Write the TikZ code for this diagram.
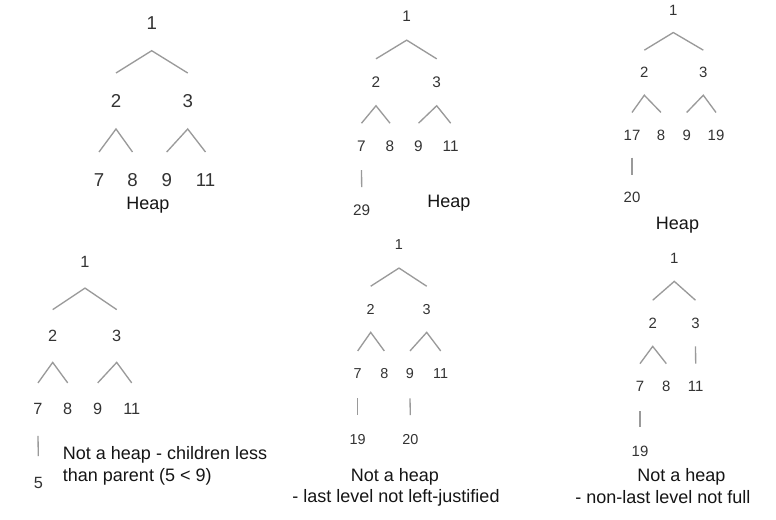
\documentclass[tikz,border=0pt]{standalone}
\usepackage{fontspec}
\setmainfont{Liberation Sans}
\definecolor{numc}{HTML}{333333}
\definecolor{linec}{HTML}{9A9A9A}
\definecolor{txtc}{HTML}{151515}
\newcommand\fork[4]{\draw[edge] ([yshift=#4]#2.center) -- ([yshift=-#4]#1.center) -- ([yshift=#4]#3.center);}
\newcommand\stem[3]{\draw[edge] ([yshift=-#3]#1.center) -- ([yshift=#3]#2.center);}
\begin{document}
\begin{tikzpicture}[x=0.75pt,y=-0.75pt,
  edge/.style={draw=linec, line width=1pt},
  num/.style={inner sep=0pt, text=numc, font=\fontsize{#1}{#1}\selectfont},
  lbl/.style={inner sep=0pt, text=txtc, font=\fontsize{13.5}{16}\selectfont}]
\useasboundingbox[fill=white] (0,0) rectangle (776,520);

% ---------- Tree 1 ----------
\node[num=14] (a1) at (151.7,22.7) {1};
\node[num=14] (a2) at (116,101) {2};
\node[num=14] (a3) at (187.7,101) {3};
\node[num=14] (a4) at (99,180) {7};
\node[num=14] (a5) at (132.5,180) {8};
\node[num=14] (a6) at (166.7,180) {9};
\node[num=14] (a7) at (205.5,180) {11};
\fork{a1}{a2}{a3}{21pt}
\fork{a2}{a4}{a5}{21pt}
\fork{a3}{a6}{a7}{21pt}
\node[lbl, anchor=base] (la) at (148,209.5) {Heap};

% ---------- Tree 2 ----------
\node[num=11.5] (b1) at (406.7,16.7) {1};
\node[num=11.5] (b2) at (376,82.3) {2};
\node[num=11.5] (b3) at (436.7,82.3) {3};
\node[num=11.5] (b4) at (361.5,146.7) {7};
\node[num=11.5] (b5) at (390,146.7) {8};
\node[num=11.5] (b6) at (418.5,146.7) {9};
\node[num=11.5] (b7) at (450.7,146.7) {11};
\node[num=11.5] (b8) at (361.7,210.7) {29};
\fork{b1}{b2}{b3}{17.6pt}
\fork{b2}{b4}{b5}{17.6pt}
\fork{b3}{b6}{b7}{17.6pt}
\stem{b4}{b8}{17.6pt}
\node[lbl, anchor=base] (lb) at (448.8,207.3) {Heap};

% ---------- Tree 3 ----------
\node[num=11.2] (c1) at (673.3,10) {1};
\node[num=11.2] (c2) at (644.3,72.7) {2};
\node[num=11.2] (c3) at (703.3,72.7) {3};
\node[num=11.2] (c4) at (632,135) {17};
\node[num=11.2] (c5) at (661,135) {8};
\node[num=11.2] (c6) at (686.7,135) {9};
\node[num=11.2] (c7) at (716,135) {19};
\node[num=11.2] (c8) at (632,197.3) {20};
\fork{c1}{c2}{c3}{16.9pt}
\fork{c2}{c4}{c5}{16.9pt}
\fork{c3}{c6}{c7}{16.9pt}
\stem{c4}{c8}{16.9pt}
\node[lbl, anchor=base] (lc) at (677.5,229.3) {Heap};

% ---------- Tree 4 ----------
\node[num=12.2] (d1) at (85,261.7) {1};
\node[num=12.2] (d2) at (52.7,336) {2};
\node[num=12.2] (d3) at (116.7,336) {3};
\node[num=12.2] (d4) at (38,409.3) {7};
\node[num=12.2] (d5) at (67.7,409.3) {8};
\node[num=12.2] (d6) at (97.7,409.3) {9};
\node[num=12.2] (d7) at (131.7,409.3) {11};
\node[num=12.2] (d8) at (38.3,482.7) {5};
\fork{d1}{d2}{d3}{19.8pt}
\fork{d2}{d4}{d5}{19.8pt}
\fork{d3}{d6}{d7}{19.8pt}
\stem{d4}{d8}{20pt}
\node[lbl, anchor=base west] (ld1) at (62.7,460) {Not a heap - children less};
\node[lbl, anchor=base west] (ld2) at (62.7,481.7) {than parent (5 < 9)};

% ---------- Tree 5 ----------
\node[num=10.8] (e1) at (399,245) {1};
\node[num=10.8] (e2) at (370.7,309.3) {2};
\node[num=10.8] (e3) at (426.7,309.3) {3};
\node[num=10.8] (e4) at (357.7,374) {7};
\node[num=10.8] (e5) at (384.3,374) {8};
\node[num=10.8] (e6) at (410,374) {9};
\node[num=10.8] (e7) at (440.7,374) {11};
\node[num=10.8] (e8) at (357.7,439.3) {19};
\node[num=10.8] (e9) at (410.3,439.3) {20};
\fork{e1}{e2}{e3}{17.3pt}
\fork{e2}{e4}{e5}{17.3pt}
\fork{e3}{e6}{e7}{17.3pt}
\stem{e4}{e8}{18.2pt}
\stem{e6}{e9}{18.2pt}
\node[lbl, anchor=base] (le1) at (395,481.5) {Not a heap};
\node[lbl, anchor=base] (le2) at (396,502.7) {- last level not left-justified};

% ---------- Tree 6 ----------
\node[num=11.2] (f1) at (674.3,258.3) {1};
\node[num=11.2] (f2) at (652.7,323.3) {2};
\node[num=11.2] (f3) at (695.5,323.3) {3};
\node[num=11.2] (f4) at (640,386.7) {7};
\node[num=11.2] (f5) at (666.3,386.7) {8};
\node[num=11.2] (f6) at (695.7,386.7) {11};
\node[num=11.2] (f7) at (640,451.7) {19};
\fork{f1}{f2}{f3}{17.3pt}
\fork{f2}{f4}{f5}{17.3pt}
\stem{f3}{f6}{17.3pt}
\stem{f4}{f7}{18.4pt}
\node[lbl, anchor=base] (lf1) at (681.5,481.7) {Not a heap};
\node[lbl, anchor=base east] (lf2) at (750.7,503.3) {- non-last level not full};
\end{tikzpicture}
\end{document}
